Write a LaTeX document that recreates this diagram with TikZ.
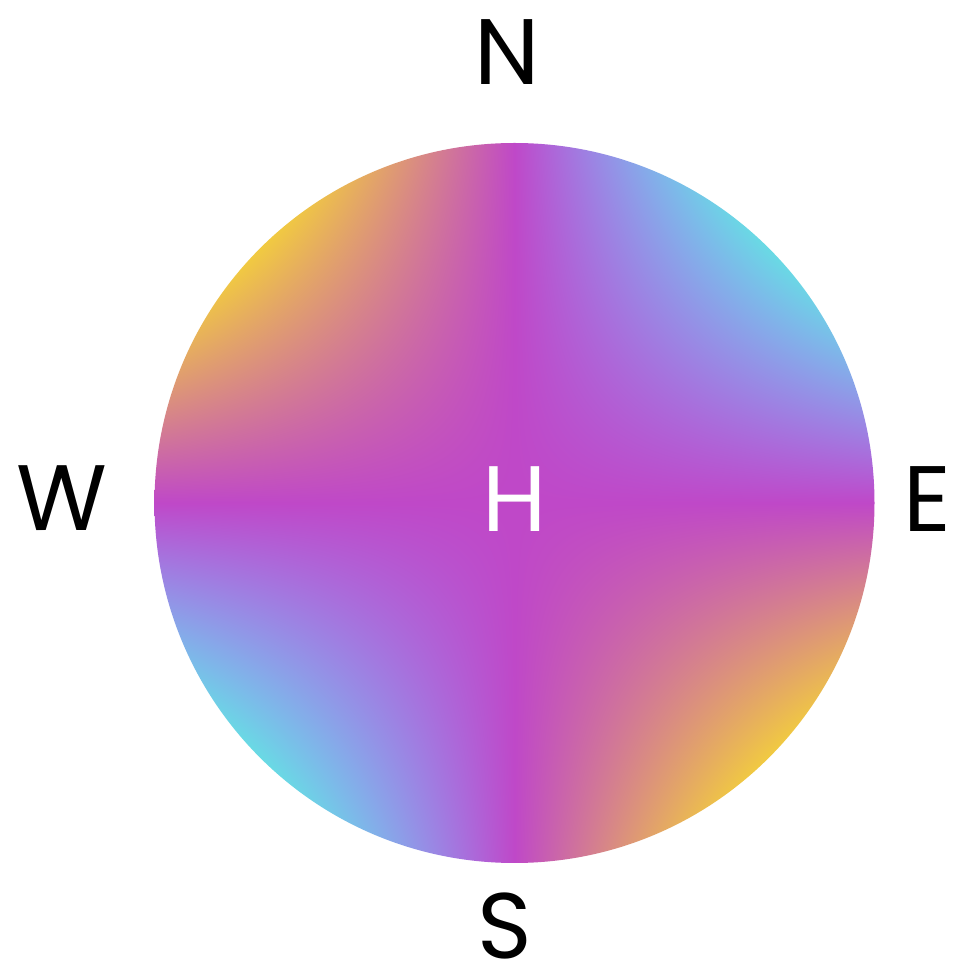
\documentclass[tikz,border=0pt]{standalone}
\usepackage{fontspec}
\setmainfont{Poppins}
\pgfdeclarefunctionalshading{hyp}{\pgfpoint{-50bp}{-50bp}}{\pgfpoint{50bp}{50bp}}{}{
  mul 312.5 div
  dup 1 gt {pop 1} if
  dup -1 lt {pop -1} if
  dup 0 lt
  { neg
    dup 0.196 mul 0.749 add exch
    dup 0.510 mul 0.282 add exch
    -0.529 mul 0.784 add }
  { dup -0.337 mul 0.749 add exch
    dup 0.573 mul 0.282 add exch
    dup 0.110 mul 0.784 add exch
    dup 1 exch sub mul 0.25 mul add }
  ifelse
}
\tikzset{
  dir/.style={font=\fontsize{93}{93}\selectfont, inner sep=0pt, text=black},
  hub/.style={font=\fontsize{93}{93}\selectfont, inner sep=0pt, text=white}
}
\begin{document}
\begin{tikzpicture}[x=1pt,y=1pt]
\useasboundingbox (0,0) rectangle (957,978);
\fill[white] (0,0) rectangle (957,978);
\coordinate (c) at (514.5,475);
\shade[shading=hyp] (c) circle (360);
\node[hub] (h) at (515,478.5) {H};
\node[dir] (n) at (507,925.5) {N};
\node[dir] (s) at (505,52) {S};
\node[dir] (w) at (62,479.5) {W};
\node[dir] (e) at (927.5,479) {E};
\end{tikzpicture}
\end{document}
